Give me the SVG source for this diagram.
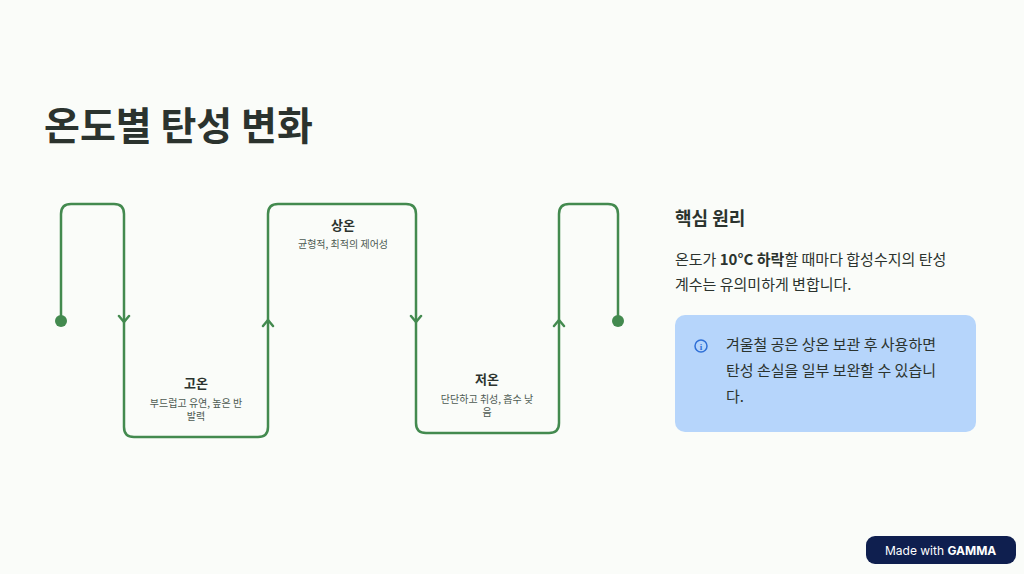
<svg xmlns="http://www.w3.org/2000/svg" width="1024" height="574" viewBox="0 0 1024 574">
<style>
.ln{fill:none;stroke:#438a4f;stroke-width:2.5;stroke-linejoin:round;stroke-linecap:round}
.t{font-family:"Noto Sans CJK KR","Noto Sans",sans-serif;fill:#2b332e}
.h{font-size:13px;font-weight:bold;text-anchor:middle}
.s{font-size:10px;fill:#4d5a52;text-anchor:middle}
</style>
<rect width="1024" height="574" fill="#fafcf9"/>
<text class="t" x="44" y="140" font-size="39" font-weight="bold" fill="#2f3a33">온도별 탄성 변화</text>
<g id="connectors">
<path class="ln" d="M61,321 V214 Q61,204 71,204 H114 Q124,204 124,214 V427 Q124,437 134,437 H258 Q268,437 268,427 V214 Q268,204 278,204 H406 Q416,204 416,214 V423 Q416,433 426,433 H549 Q559,433 559,423 V214 Q559,204 569,204 H608 Q618,204 618,214 V321"/>
<path class="ln" d="M119,316 L124,322 L129,316 M263,326 L268,320 L273,326 M411,316 L416,322 L421,316 M554,326 L559,320 L564,326" stroke-width="1.8"/>
<circle cx="61" cy="321" r="6" fill="#438a4f"/>
<circle cx="618" cy="321" r="6" fill="#438a4f"/>
</g>
<g id="high">
<text class="t h" x="196" y="388">고온</text>
<text class="t s" x="196" y="407">부드럽고 유연, 높은 반</text>
<text class="t s" x="196" y="420">발력</text>
</g>
<g id="room">
<text class="t h" x="343" y="230">상온</text>
<text class="t s" x="343" y="248">균형적, 최적의 제어성</text>
</g>
<g id="low">
<text class="t h" x="487" y="384">저온</text>
<text class="t s" x="487" y="403">단단하고 취성, 흡수 낮</text>
<text class="t s" x="487" y="416">음</text>
</g>
<g id="principle">
<text class="t" x="675" y="225" font-size="18" font-weight="bold">핵심 원리</text>
<text class="t" x="675" y="265" font-size="15" fill="#4d5a52">온도가 <tspan font-weight="bold" fill="#2b332e">10°C 하락</tspan>할 때마다 합성수지의 탄성</text>
<text class="t" x="675" y="290" font-size="15" fill="#4d5a52">계수는 유의미하게 변합니다.</text>
</g>
<g id="note">
<rect x="675" y="315" width="301" height="117" rx="10" fill="#b6d5fb"/>
<circle cx="701" cy="346" r="6" fill="none" stroke="#2f6fd6" stroke-width="1.5"/>
<text x="701" y="349.5" font-family="Liberation Serif,serif" font-size="9" font-weight="bold" fill="#2f6fd6" text-anchor="middle">i</text>
<g class="t" font-size="15" fill="#1f2a3a">
<text x="726" y="350">겨울철 공은 상온 보관 후 사용하면</text>
<text x="726" y="376">탄성 손실을 일부 보완할 수 있습니</text>
<text x="726" y="402">다.</text>
</g>
</g>
<g id="badge">
<rect x="866" y="536" width="150" height="28" rx="9" fill="#0f1f4f"/>
<text x="885" y="555" font-family="Inter,sans-serif" font-size="12" fill="#fff">Made with <tspan font-weight="bold">GAMMA</tspan></text>
</g>
</svg>
